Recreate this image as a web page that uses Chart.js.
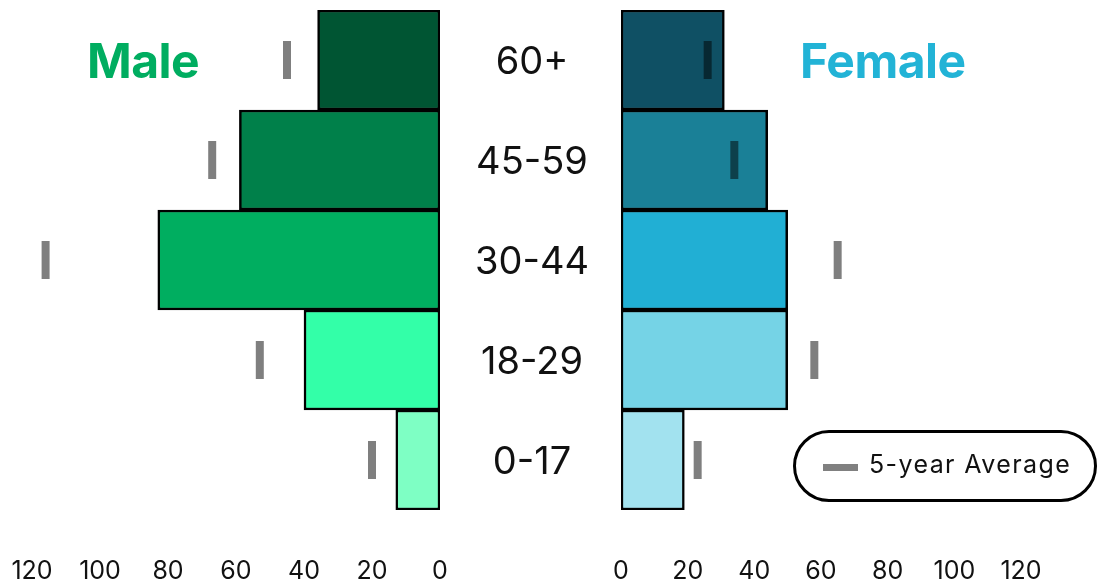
<!DOCTYPE html>
<html>
<head>
<meta charset="utf-8">
<title>Age groups by sex</title>
<script src="https://cdn.jsdelivr.net/npm/chart.js@4.4.1/dist/chart.umd.min.js"></script>
<style>
  html, body { margin: 0; padding: 0; background: #fff; }
  body { width: 1098px; height: 587px; position: relative; overflow: hidden; font-family: Inter, "Noto Sans", sans-serif; }
  canvas { position: absolute; top: 0; }
  #maleChart { left: 0; }
  #femaleChart { left: 600px; }
  .side-title { position: absolute; top: 31px; font-weight: 700; font-size: 48px; line-height: 60px; letter-spacing: -0.5px; }
  #maleTitle { left: 87px; color: #00ad60; }
  #femaleTitle { left: 800px; color: #22b3d6; }
  #avgLegend {
    position: absolute; left: 793px; top: 430px; width: 304px; height: 72px;
    box-sizing: border-box; border: 3px solid #000; border-radius: 36px;
  }
  #avgLegend .dash { position: absolute; left: 27px; top: 31px; width: 35px; height: 7px; background: #808080; }
  #avgLegend .txt { position: absolute; left: 73px; top: 14px; font-size: 25px; line-height: 34px; letter-spacing: 1.4px; color: #111; }
</style>
</head>
<body>
<canvas id="maleChart" width="621" height="587"></canvas>
<canvas id="femaleChart" width="498" height="587"></canvas>
<div id="maleTitle" class="side-title">Male</div>
<div id="femaleTitle" class="side-title">Female</div>
<div id="avgLegend"><div class="dash"></div><div class="txt">5-year Average</div></div>

<script>
// age groups, top to bottom
const ageGroups = ['60+', '45-59', '30-44', '18-29', '0-17'];

const maleValues = [36, 59, 83, 40, 13];
const maleAverage = [45, 67, 116, 53, 20];
const femaleValues = [31, 44, 50, 50, 19];
const femaleAverage = [26, 34, 65, 58, 23];

const maleColors = ['#005533', '#00804a', '#00ae60', '#33ffa8', '#7effc4'];
const femaleColors = ['#0f5064', '#1a8097', '#21afd4', '#75d3e6', '#a2e2ef'];

const axisTicks = [0, 20, 40, 60, 80, 100, 120];

const FONT = 'Inter';
const avgColor = 'rgba(0,0,0,0.5)';

function buildChart(canvasId, values, average, colors, isMale) {
    const ctx = document.getElementById(canvasId);
    return new Chart(ctx, {
        type: 'bar',
        data: {
            labels: ageGroups,
            datasets: [{
                type: 'line',
                label: '5-year Average',
                data: average,
                indexAxis: 'y',
                showLine: false,
                pointStyle: 'line',
                rotation: 90,
                pointRadius: 19,
                pointBorderWidth: 8,
                pointBorderColor: avgColor,
                borderColor: avgColor,
                order: 0
            }, {
                label: isMale ? 'Male' : 'Female',
                data: values,
                backgroundColor: colors,
                borderColor: '#000',
                borderWidth: 2.5,
                borderSkipped: false,
                barPercentage: 1,
                categoryPercentage: 1,
                order: 1
            }]
        },
        options: {
            indexAxis: 'y',
            responsive: false,
            animation: false,
            layout: {
                autoPadding: false,
                padding: isMale ? { top: 10, left: 32, right: 0, bottom: 0 }
                                : { top: 10, left: 21, right: 77, bottom: 0 }
            },
            plugins: {
                legend: { display: false },
                tooltip: { enabled: false }
            },
            scales: {
                x: {
                    min: 0,
                    max: 120,
                    reverse: isMale,
                    afterBuildTicks: scale => {
                        scale.ticks = axisTicks.map(v => ({ value: v }));
                    },
                    afterFit: scale => {
                        scale.height = 77;
                        scale.paddingLeft = 0;
                        scale.paddingRight = 0;
                    },
                    grid: { display: false, drawTicks: false },
                    border: { display: false },
                    ticks: {
                        padding: 46,
                        maxRotation: 0,
                        color: '#111',
                        font: { family: FONT, size: 25 }
                    }
                },
                y: {
                    display: isMale,
                    position: 'right',
                    afterFit: scale => {
                        if (isMale) scale.width = 181;
                        scale.paddingTop = 0;
                        scale.paddingBottom = 0;
                    },
                    grid: { display: false, drawTicks: false },
                    border: { display: false },
                    ticks: {
                        crossAlign: 'center',
                        padding: 35,
                        labelOffset: 3,
                        color: '#111',
                        font: { family: FONT, size: 38 }
                    }
                }
            }
        }
    });
}

window.addEventListener('DOMContentLoaded', () => {
    buildChart('maleChart', maleValues, maleAverage, maleColors, true);
    buildChart('femaleChart', femaleValues, femaleAverage, femaleColors, false);
});
</script>
</body>
</html>
